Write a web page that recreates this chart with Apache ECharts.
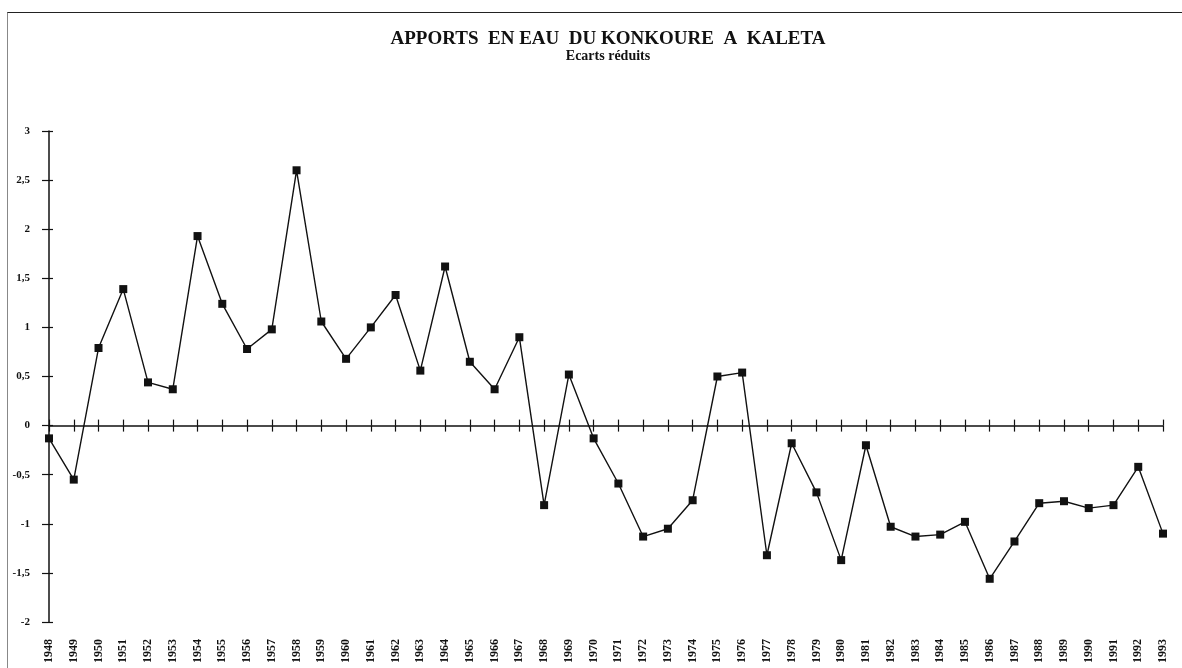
<!DOCTYPE html>
<html>
<head>
<meta charset="utf-8">
<script src="https://cdn.jsdelivr.net/npm/echarts@6/dist/echarts.min.js"></script>
<style>
  html, body { margin: 0; padding: 0; background: #fff; }
  #chart { width: 1182px; height: 668px; }
  .frame { position: absolute; left: 7px; top: 12px; width: 1200px; height: 700px;
    border-top: 1.5px solid #222; border-left: 1.5px solid #888; pointer-events: none; }
</style>
</head>
<body>
<div id="chart"></div>
<div class="frame"></div>
<script>
const years = ['1948','1949','1950','1951','1952','1953','1954','1955','1956','1957','1958','1959',
  '1960','1961','1962','1963','1964','1965','1966','1967','1968','1969','1970','1971','1972','1973',
  '1974','1975','1976','1977','1978','1979','1980','1981','1982','1983','1984','1985','1986','1987',
  '1988','1989','1990','1991','1992','1993']
const ecarts = [-0.13, -0.55, 0.79, 1.39, 0.44, 0.37, 1.93, 1.24, 0.78, 0.98, 2.60, 1.06,
  0.68, 1.00, 1.33, 0.56, 1.62, 0.65, 0.37, 0.90, -0.81, 0.52, -0.13, -0.59, -1.13, -1.05,
  -0.76, 0.50, 0.54, -1.32, -0.18, -0.68, -1.37, -0.20, -1.03, -1.13, -1.11, -0.98, -1.56, -1.18,
  -0.79, -0.77, -0.84, -0.81, -0.42, -1.10]

const ink = '#111'
const font = '"Liberation Serif", "DejaVu Serif", serif'

const chart = echarts.init(document.getElementById('chart'))
chart.setOption({
  animation: false,
  title: {
    text: 'APPORTS  EN EAU  DU KONKOURE  A  KALETA', subtext: 'Ecarts réduits',
    left: 603, top: 25, textAlign: 'center', itemGap: 0,
    textStyle: { fontFamily: font, fontSize: 19, fontWeight: 'bold', color: ink },
    subtextStyle: { fontFamily: font, fontSize: 14, fontWeight: 'bold', color: ink }
  },
  grid: { left: 49, right: 19, top: 131, bottom: 46, containLabel: false, outerBoundsMode: 'none' },
  xAxis: [
    // labels along the bottom of the plot
    { type: 'category', data: years, boundaryGap: false, position: 'bottom',
      axisLine: { show: false, onZero: false }, axisTick: { show: false },
      axisLabel: { interval: 0, rotate: 90, margin: 17, color: ink, fontFamily: font, fontSize: 12, fontWeight: 'bold' } },
    // zero line, ticks below
    { type: 'category', data: years, boundaryGap: false, position: 'bottom',
      axisLine: { onZero: true, onZeroAxisIndex: 0, lineStyle: { color: ink, width: 1.5 } },
      axisTick: { interval: 0, length: 6, lineStyle: { color: ink, width: 1.2 } }, axisLabel: { show: false } },
    // ticks above
    { type: 'category', data: years, boundaryGap: false, position: 'bottom',
      axisLine: { show: false, onZero: true, onZeroAxisIndex: 0 },
      axisTick: { interval: 0, inside: true, length: 6, lineStyle: { color: ink, width: 1.2 } }, axisLabel: { show: false } }
  ],
  yAxis: [
    { type: 'value', min: -2, max: 3, interval: 0.5, position: 'left',
      axisLine: { show: true, lineStyle: { color: ink, width: 1.5 } },
      axisTick: { show: true, length: 7, lineStyle: { color: ink, width: 1.2 } },
      axisLabel: { margin: 19, color: ink, fontFamily: font, fontSize: 11, fontWeight: 'bold',
        formatter: v => String(v).replace('.', ',') },
      splitLine: { show: false } },
    { type: 'value', min: -2, max: 3, interval: 0.5, position: 'left',
      axisLine: { show: false }, axisTick: { show: true, inside: true, length: 4, lineStyle: { color: ink, width: 1.2 } },
      axisLabel: { show: false }, splitLine: { show: false } }
  ],
  series: [
    { type: 'line', data: ecarts, xAxisIndex: 0, yAxisIndex: 0,
      symbol: 'rect', symbolSize: 8, itemStyle: { color: ink },
      lineStyle: { color: ink, width: 1.4 } }
  ]
})
</script>
</body>
</html>
